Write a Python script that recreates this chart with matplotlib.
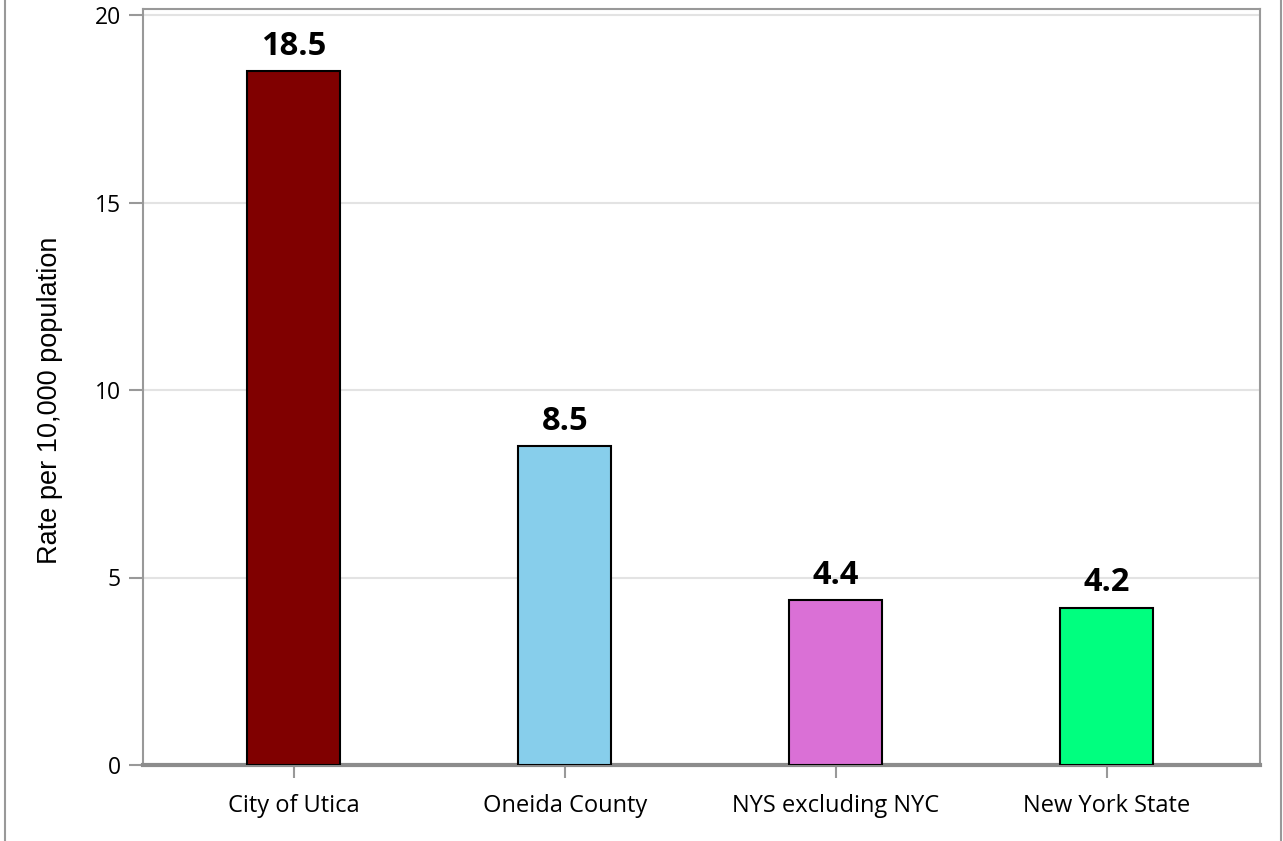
import matplotlib
matplotlib.use("Agg")
import matplotlib.pyplot as plt
from matplotlib.lines import Line2D

categories = ["City of Utica", "Oneida County", "NYS excluding NYC", "New York State"]
values = [18.5, 8.5, 4.4, 4.2]
colors = ["#800000", "#87CEEB", "#DA70D6", "#00FF7F"]
yticks = [0, 5, 10, 15, 20]
ylabel = "Rate per 10,000 population"

plt.rcParams['font.family'] = ['Open Sans', 'DejaVu Sans']

fig = plt.figure(figsize=(12.83, 8.41), dpi=100)
ax = fig.add_axes([143/1283, 1-765/841, (1260-143)/1283, (765-9)/841])

x = list(range(len(categories)))
bars = ax.bar(x, values, width=0.343, color=colors, edgecolor="black", linewidth=1.5, zorder=3)

for xi, v in zip(x, values):
    ax.annotate(f"{v}", (xi, v), xytext=(0, 6), textcoords="offset points",
                ha="center", va="bottom", fontsize=23.5, fontweight="bold", color="black")

ax.set_xlim(-0.557, 3.565)
ax.set_ylim(0, 20.16)
ax.set_yticks(yticks)
ax.set_yticklabels([str(t) for t in yticks], fontsize=16.5)
ax.set_xticks(x)
ax.set_xticklabels(categories, fontsize=17)
ax.set_ylabel(ylabel, fontsize=19.5, family=['Liberation Sans', 'DejaVu Sans'],
              va="center", ha="center")
ax.yaxis.set_label_coords(-0.0835, 0.483)

ax.yaxis.grid(True, color="#e3e3e3", linewidth=1.5, zorder=0)
ax.set_axisbelow(True)

for s in ["top", "left", "right"]:
    ax.spines[s].set_color("#999999")
    ax.spines[s].set_linewidth(1.5)
ax.spines["bottom"].set_color("#8c8c8c")
ax.spines["bottom"].set_linewidth(3)

ax.tick_params(axis="y", direction="out", length=10, width=1.5, color="#999999", pad=6)
ax.tick_params(axis="x", direction="out", length=9, width=1.5, color="#999999", pad=12)

fig.add_artist(Line2D([5/1283, 5/1283], [0, 1], color="#999999", linewidth=1.5, transform=fig.transFigure))
fig.add_artist(Line2D([1281/1283, 1281/1283], [0, 1], color="#999999", linewidth=1.5, transform=fig.transFigure))

fig.savefig("out.png", dpi=100)
